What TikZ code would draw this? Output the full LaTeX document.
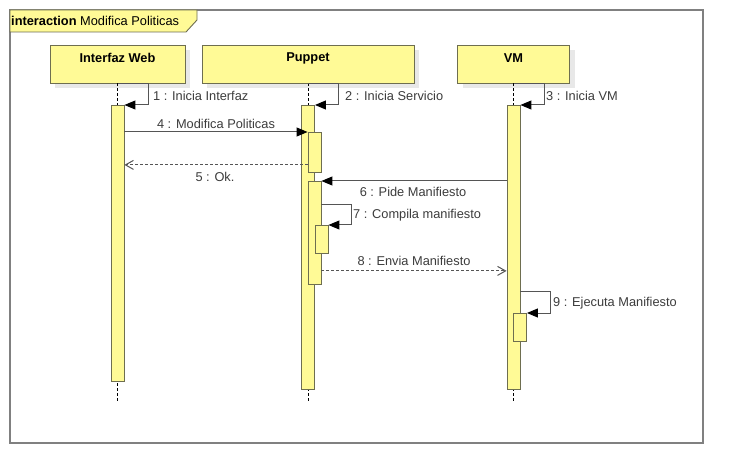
\documentclass[tikz,border=0pt]{standalone}
\usepackage{fontspec}
\setmainfont{Liberation Sans}
\usetikzlibrary{arrows.meta}
\definecolor{umlfill}{RGB}{255,250,150}
\definecolor{umlborder}{RGB}{110,110,80}
\definecolor{framegray}{RGB}{128,128,128}
\definecolor{msgline}{RGB}{85,85,85}
\definecolor{lbltext}{RGB}{60,60,60}
\definecolor{shadowgray}{RGB}{232,232,232}
\tikzset{
  x=1pt, y=-1pt,
  every node/.style={font=\fontsize{12.8}{14}\selectfont},
  head/.style={draw=umlborder, fill=umlfill, line width=0.9pt, inner sep=0pt},
  headshadow/.style={fill=shadowgray, draw=none, inner sep=0pt},
  headtext/.style={font=\fontsize{12.8}{14}\selectfont\bfseries, inner sep=0pt, text=black},
  act/.style={draw=umlborder, fill=umlfill, line width=0.9pt, inner sep=0pt, minimum width=13pt, anchor=north},
  lifeline/.style={draw=black, dashed, dash pattern=on 3pt off 2pt, line width=0.7pt},
  msg/.style={draw=msgline, line width=1pt, -{Triangle[length=11pt,width=9pt,color=black]}},
  ret/.style={draw=msgline, line width=1pt, dash pattern=on 3pt off 2pt, -{Straight Barb[length=8pt,width=9pt]}},
  lbl/.style={text=lbltext, inner sep=0pt},
}
\begin{document}
\begin{tikzpicture}
\useasboundingbox (0,0) rectangle (744,454);
\fill[white] (0,0) rectangle (744,454);
% frame
\draw[framegray, line width=1.5pt] (10,10) rectangle (703,443);
\draw[umlborder, fill=umlfill, line width=0.9pt] (10,10) -- (197,10) -- (197,20) -- (186,32) -- (10,32) -- cycle;
\node[anchor=west, inner sep=0pt] (title) at (11,20.5) {\textbf{interaction} Modifica Politicas};
% shadows
\node[headshadow, minimum width=135pt, minimum height=38pt] (iwsh) at (122.5,69) {};
\node[headshadow, minimum width=212pt, minimum height=38pt] (ppsh) at (313,69) {};
\node[headshadow, minimum width=112pt, minimum height=38pt] (vmsh) at (518.5,69) {};
% heads
\node[head, minimum width=135pt, minimum height=38pt] (iw) at (117.5,64) {};
\node[head, minimum width=212pt, minimum height=38pt] (pp) at (308,64) {};
\node[head, minimum width=112pt, minimum height=38pt] (vm) at (513.5,64) {};
\node[headtext] (iwt) at (117.5,58) {Interfaz Web};
\node[headtext] (ppt) at (308,58) {Puppet};
\node[headtext] (vmt) at (513.5,58) {VM};
% lifeline coordinates
\coordinate (iwend) at (117.5,402);
\coordinate (ppend) at (308,402);
\coordinate (vmend) at (513.5,402);
% lifelines
\draw[lifeline] (iw.south) -- (iwend);
\draw[lifeline] (pp.south) -- (ppend);
\draw[lifeline] (vm.south) -- (vmend);
% activations
\node[act, minimum height=276pt] (a1) at (117.5,105) {};
\node[act, minimum height=284pt] (a2) at (308,105) {};
\node[act, minimum height=284pt] (a3) at (513.5,105) {};
\node[act, minimum height=40pt] (n1) at (314.5,132) {};
\node[act, minimum height=103pt] (n2) at (314.5,181) {};
\node[act, minimum height=28pt] (n3) at (321.5,225) {};
\node[act, minimum height=28pt] (n4) at (520,313) {};
% self messages at start
\draw[msg] (iw.south) -- ++(30.5,0) |- (a1.north east);
\draw[msg] (pp.south) -- ++(30,0) |- (a2.north east);
\draw[msg] (vm.south) -- ++(31,0) |- (a3.north east);
\node[lbl, anchor=west] (l1) at (153,96) {1 : Inicia Interfaz};
\node[lbl, anchor=west] (l2) at (345,96) {2 : Inicia Servicio};
\node[lbl, anchor=west] (l3) at (546,96) {3 : Inicia VM};
% 4
\draw[msg] (a1.east |- n1.north west) -- (n1.north west);
\node[lbl] (l4) at (216,124) {4 : Modifica Politicas};
% 5
\draw[ret] ([yshift=8pt]n1.south west) -- ([yshift=8pt]a1.east |- n1.south west);
\node[lbl] (l5) at (215,177) {5 : Ok.};
% 6
\draw[msg] (a3.west |- n2.north east) -- (n2.north east);
\node[lbl] (l6) at (413,191.5) {6 : Pide Manifiesto};
% 7
\draw[msg] ([yshift=-24pt]n2.north east) -- ++(30,0) |- (n3.north east);
\node[lbl, anchor=west] (l7) at (353,215) {7 : Compila manifiesto};
% 8
\draw[ret] ([yshift=14pt]n2.south east) -- ([yshift=14pt]a3.west |- n2.south east);
\node[lbl] (l8) at (414,261) {8 : Envia Manifiesto};
% 9
\draw[msg] ([yshift=21pt]a3.east |- n4.north) -- ++(30,0) |- (n4.north east);
\node[lbl, anchor=west] (l9) at (553,303) {9 : Ejecuta Manifiesto};
\end{tikzpicture}
\end{document}
